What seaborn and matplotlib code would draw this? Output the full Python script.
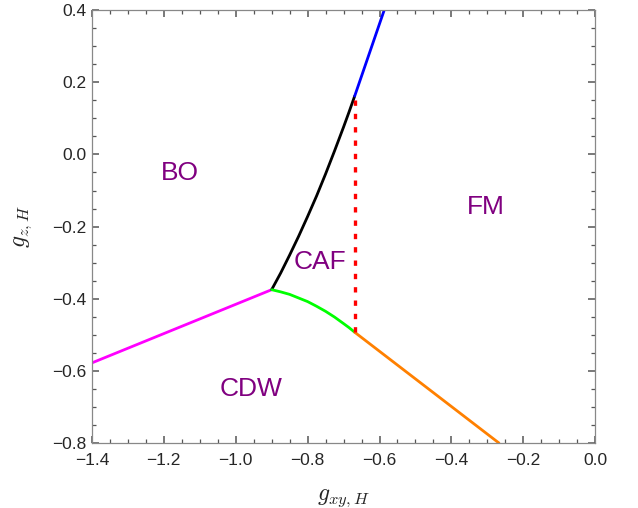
import numpy as np
import pandas as pd
import matplotlib
matplotlib.use("Agg")
import matplotlib.pyplot as plt
import seaborn as sns
from matplotlib.ticker import MultipleLocator

# phase boundaries
bo_cdw_x = [-1.4, -0.9]
bo_cdw_y = [-0.578, -0.375]

bo_caf_x = [-0.9, -0.875, -0.85, -0.825, -0.80, -0.775, -0.75, -0.725, -0.70, -0.685, -0.669]
bo_caf_y = [-0.375, -0.329, -0.279, -0.227, -0.172, -0.115, -0.054, 0.010, 0.076, 0.117, 0.162]

caf_cdw_x = [-0.9, -0.875, -0.85, -0.825, -0.80, -0.775, -0.75, -0.725, -0.70, -0.685, -0.669]
caf_cdw_y = [-0.375, -0.381, -0.388, -0.398, -0.408, -0.421, -0.435, -0.451, -0.469, -0.480, -0.493]

bo_fm_x = [-0.669, -0.587]
bo_fm_y = [0.162, 0.4]

cdw_fm_x = [-0.669, -0.268]
cdw_fm_y = [-0.493, -0.8]

caf_fm_x = [-0.669, -0.669]
caf_fm_y = [-0.493, 0.162]

phase_names = ["BO", "FM", "CAF", "CDW"]
phase_x = [-1.155, -0.303, -0.765, -0.958]
phase_y = [-0.051, -0.145, -0.299, -0.650]

sns.set_style("ticks")
plt.rcParams['font.family'] = ['Liberation Sans', 'DejaVu Sans']
plt.rcParams['mathtext.fontset'] = 'cm'

fig = plt.figure(figsize=(6.38, 5.08), dpi=100)
ax = fig.add_axes([0.144, 0.128, 0.789, 0.852])

segments = [
    (bo_cdw_x, bo_cdw_y, "#ff00ff"),
    (bo_caf_x, bo_caf_y, "black"),
    (caf_cdw_x, caf_cdw_y, "#00ff00"),
    (bo_fm_x, bo_fm_y, "#0000ff"),
    (cdw_fm_x, cdw_fm_y, "#ff8000"),
]
for xs, ys, col in segments:
    df = pd.DataFrame({"x": xs, "y": ys})
    sns.lineplot(data=df, x="x", y="y", ax=ax, color=col, lw=2.0,
                 sort=False, estimator=None)

df = pd.DataFrame({"x": caf_fm_x, "y": caf_fm_y})
sns.lineplot(data=df, x="x", y="y", ax=ax, color="#ff0000", lw=2.4,
             sort=False, estimator=None)
ax.lines[-1].set_dashes((1.6, 2.4))

for name, tx, ty in zip(phase_names, phase_x, phase_y):
    ax.text(tx, ty, name, color="#800080", fontsize=19,
            ha="center", va="center")

ax.set_xlim(-1.4, 0.0)
ax.set_ylim(-0.8, 0.4)
ax.xaxis.set_major_locator(MultipleLocator(0.2))
ax.xaxis.set_minor_locator(MultipleLocator(0.05))
ax.yaxis.set_major_locator(MultipleLocator(0.2))
ax.yaxis.set_minor_locator(MultipleLocator(0.05))
ax.tick_params(which="both", direction="in", top=True, right=True,
               bottom=True, left=True, color="#555555", labelsize=12.5)
ax.tick_params(which="major", length=5, width=1.1)
ax.tick_params(which="minor", length=3, width=0.9)
ax.tick_params(axis="x", pad=7)
ax.tick_params(axis="y", pad=4)
for sp in ax.spines.values():
    sp.set_color("#888888")
    sp.set_linewidth(0.9)

ax.set_xlabel(r"$g_{xy,H}$", fontsize=17, labelpad=14)
ax.set_ylabel(r"$g_{z,H}$", fontsize=17, labelpad=13)

fig.savefig("out.png", dpi=100)
